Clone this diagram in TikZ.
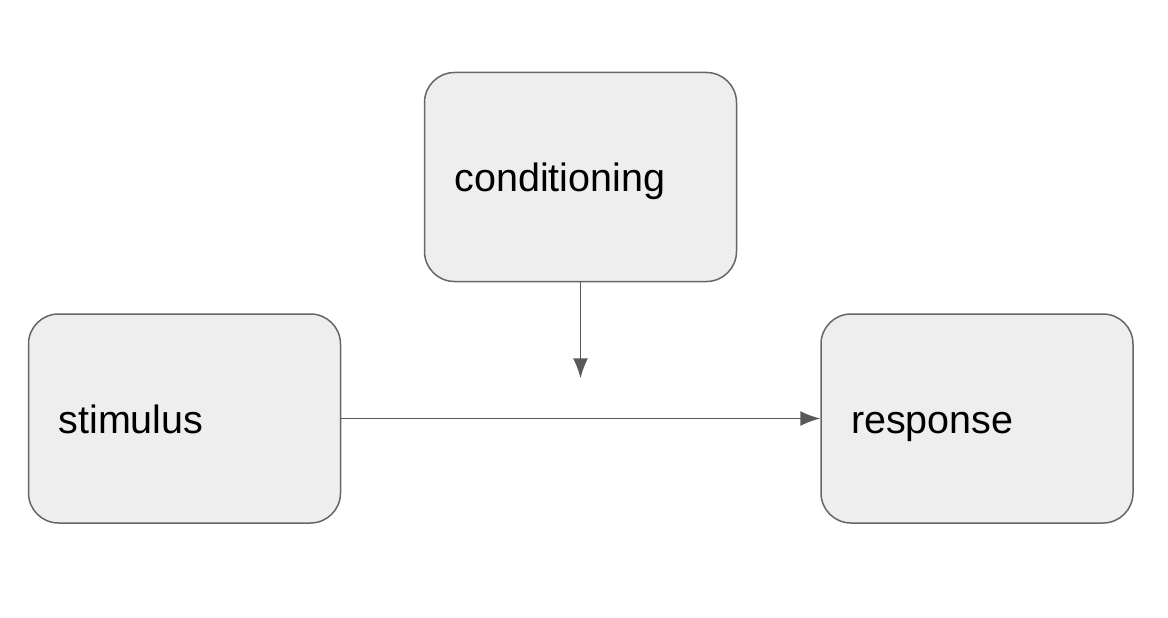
\documentclass[tikz,border=0pt]{standalone}
\usepackage{fontspec}
\setmainfont{Liberation Sans}
\usepackage{xcolor}
\usetikzlibrary{shapes,arrows.meta,positioning,calc}

\definecolor{boxfill}{HTML}{EEEEEE}
\definecolor{boxline}{HTML}{666666}
\definecolor{arrline}{HTML}{595959}

\begin{document}
\begin{tikzpicture}[x=1pt, y=-1pt,
	box/.style={rectangle, rounded corners=30pt, draw=boxline, fill=boxfill, line width=1.5pt,
		minimum width=312pt, minimum height=209pt, inner xsep=30pt, text width=252pt, align=left,
		text height=29pt, text depth=0pt, font=\fontsize{39.5}{44}\selectfont},
	arr/.style={draw=arrline, line width=1.5pt, -{Latex[length=20pt, width=15pt]}}]
	\useasboundingbox (0,0) rectangle (1168,618);
	\node[box] (stimulus) at (184.5,418.5) {stimulus};
	\node[box, right=479pt of stimulus] (response) {response};
	\node[box] (conditioning) at (580.5,177) {conditioning};
	\coordinate[below=96pt of conditioning.south] (condend);
	
	\draw[arr] (stimulus) -- (response);
	\draw[arr] (conditioning.south) -- (condend);
\end{tikzpicture}
\end{document}
